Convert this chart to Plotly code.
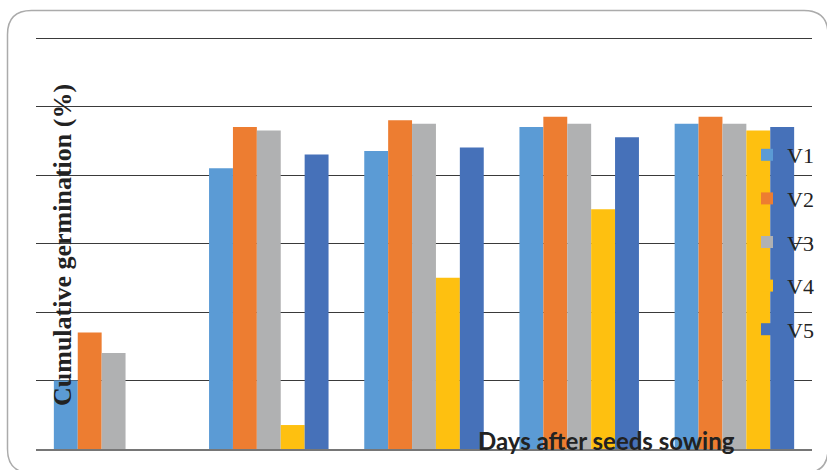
import plotly.graph_objects as go

# Cumulative germination (%) per variety, five sampling days
days = ["Day 1", "Day 2", "Day 3", "Day 4", "Day 5"]
v1 = [20, 82, 87, 94, 95]
v2 = [34, 94, 96, 97, 97]
v3 = [28, 93, 95, 95, 95]
v4 = [0, 7, 50, 70, 93]
v5 = [0, 86, 88, 91, 94]

series_names = ["V1", "V2", "V3", "V4", "V5"]
series_values = [v1, v2, v3, v4, v5]
series_colors = ["#5B9BD5", "#ED7D31", "#B0B1B2", "#FEC010", "#4671B9"]

W, H = 827, 470
ML, MR, MT, MB = 36, 15, 37, 21
PW, PH = W - ML - MR, H - MT - MB


def px(x):
    return (x - ML) / PW


def py(y):
    return (H - MB - y) / PH


fig = go.Figure()
for i, (name, vals, col) in enumerate(zip(series_names, series_values, series_colors)):
    fig.add_trace(go.Bar(
        x=days, y=vals, name=name, legendgroup=name,
        marker=dict(color=col, line=dict(width=0)),
    ))

# rounded outer frame
x0, x1, y0, y1, r = 7.5, 828, 10.5, 473, 24
path = (
    f"M {px(x0+r)},{py(y0)} L {px(x1-r)},{py(y0)} "
    f"Q {px(x1)},{py(y0)} {px(x1)},{py(y0+r)} L {px(x1)},{py(y1-r)} "
    f"Q {px(x1)},{py(y1)} {px(x1-r)},{py(y1)} L {px(x0+r)},{py(y1)} "
    f"Q {px(x0)},{py(y1)} {px(x0)},{py(y1-r)} L {px(x0)},{py(y0+r)} "
    f"Q {px(x0)},{py(y0)} {px(x0+r)},{py(y0)} Z"
)
fig.add_shape(type="path", xref="paper", yref="paper", path=path,
              line=dict(color="#ABABAB", width=1.5), layer="below")

fig.add_annotation(
    text="<b>Cumulative germination (%)</b>", textangle=-90,
    xref="paper", yref="paper", x=px(62), y=py(245),
    showarrow=False, xanchor="center", yanchor="middle",
    font=dict(family="Liberation Serif", size=26, color="#222222"),
)
fig.add_annotation(
    text="<b>Days after seeds sowing</b>",
    xref="paper", yref="paper", x=px(606), y=py(440),
    showarrow=False, xanchor="center", yanchor="middle",
    font=dict(family="Lato", size=24, color="#222222"),
)

fig.update_layout(
    width=W, height=H,
    margin=dict(l=ML, r=MR, t=MT, b=MB, pad=0, autoexpand=False),
    paper_bgcolor="white", plot_bgcolor="white",
    barmode="group", bargap=0.23, bargroupgap=0,
    showlegend=True,
    legend=dict(
        x=px(747), y=py(134), xanchor="left", yanchor="top",
        bgcolor="rgba(0,0,0,0)", borderwidth=0,
        font=dict(family="Liberation Serif", size=22, color="#222222"),
        tracegroupgap=12, itemwidth=30,
    ),
    xaxis=dict(showticklabels=False, ticks="", showgrid=False,
               showline=True, linecolor="#767676", linewidth=2, zeroline=False),
    yaxis=dict(range=[0, 120.3], tickvals=[20, 40, 60, 80, 100, 120],
               showticklabels=False, ticks="",
               showgrid=True, gridcolor="#3A3A3A", gridwidth=1.3,
               zeroline=False, showline=False),
)

fig.write_html("out.html")
